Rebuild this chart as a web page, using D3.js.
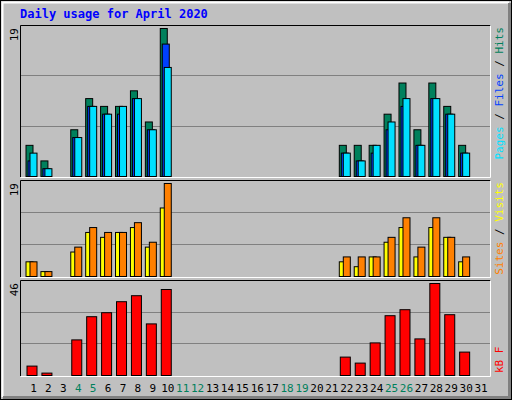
<!DOCTYPE html>
<html>
<head>
<meta charset="utf-8">
<script src="https://cdn.jsdelivr.net/npm/d3@7"></script>
<style>body{margin:0;background:#fff}</style>
</head>
<body>
<div class="chart"></div>
<script>
// Data.
const days = d3.range(1, 32);
const weekend = [4, 5, 11, 12, 18, 19, 25, 26];
const hits   = [4,2,0,6,10,9,9,11,7,19,0,0,0,0,0,0,0,0,0,0,0,4,4,4,8,12,6,12,9,4,0];
const files  = [2,1,0,5,9,8,8,10,6,17,0,0,0,0,0,0,0,0,0,0,0,3,2,3,6,9,4,10,8,3,0];
const pages  = [3,1,0,5,9,8,9,10,6,14,0,0,0,0,0,0,0,0,0,0,0,3,2,4,7,10,4,10,8,3,0];
const visits = [3,1,0,5,9,8,9,10,6,14,0,0,0,0,0,0,0,0,0,0,0,3,2,4,7,10,4,10,8,3,0];
const sites  = [3,1,0,6,10,9,9,11,7,19,0,0,0,0,0,0,0,0,0,0,0,4,4,4,8,12,6,12,8,4,0];
const kbytes = [4.7,1.2,0,17.8,29.4,31.4,36.9,39.9,25.8,43,0,0,0,0,0,0,0,0,0,0,0,9.2,6.2,16.3,29.9,32.9,18.3,46,30.4,11.7,0];

const W = 512, H = 400;
const font = 'DejaVu Sans Mono, monospace';

const svg = d3.select('.chart').append('svg').attr('width', W).attr('height', H);

// frame
svg.append('rect').attr('x', 0.5).attr('y', 0.5).attr('width', W - 1).attr('height', H - 1)
    .attr('fill', '#c0c0c0').attr('stroke', '#000');
svg.append('path').attr('d', `M2.5,${H - 3}V2.5H${W - 3}`).attr('fill', 'none').attr('stroke', '#fff').attr('stroke-width', 2);
svg.append('path').attr('d', `M3,${H - 2.5}H${W - 2.5}V3`).attr('fill', 'none').attr('stroke', '#808080').attr('stroke-width', 3);

svg.append('text').attr('x', 20).attr('y', 18).text('Daily usage for April 2020')
    .attr('font-family', font).attr('font-size', 12).attr('font-weight', 'bold').attr('fill', '#0000ff');

const x = d3.scaleBand().domain(days).range([25.5, 488]).paddingInner(0);

function panel(top, bottom, max, series, labels, anchorTop) {
    const y = d3.scaleLinear().domain([0, max]).range([bottom, top + 3]);
    const g = svg.append('g');
    // border
    g.append('path').attr('d', `M20.5,${bottom + 1}V${top + 0.5}H490.5`).attr('fill', 'none').attr('stroke', '#000');
    g.append('path').attr('d', `M20.5,${bottom + 1.5}H490.5V${top + 0.5}`).attr('fill', 'none').attr('stroke', '#fff');
    [1 / 3, 2 / 3].forEach(f => {
        const yy = Math.round(bottom - (bottom - top) * f) + 0.5;
        g.append('line').attr('x1', 21).attr('x2', 490).attr('y1', yy).attr('y2', yy).attr('stroke', '#808080');
    });
    g.append('text').attr('transform', `translate(18,${top + 3}) rotate(-90)`).attr('text-anchor', 'end')
        .text(max).attr('font-family', font).attr('font-size', 11);
    series.forEach(s => {
        g.selectAll(null).data(days.filter((d, i) => s.values[i] > 0)).enter().append('rect')
            .attr('x', d => x(d) + s.off + 0.5)
            .attr('y', d => y(s.values[d - 1]) + 0.5)
            .attr('width', s.w)
            .attr('height', d => bottom - y(s.values[d - 1]))
            .attr('fill', s.color).attr('stroke', '#000');
    });
    // right legend, reading bottom-to-top
    const t = g.append('text')
        .attr('transform', anchorTop ? `translate(503,${top + 2}) rotate(-90)` : `translate(503,${bottom - 2}) rotate(-90)`)
        .attr('text-anchor', anchorTop ? 'end' : 'start')
        .attr('font-family', font).attr('font-size', 11);
    labels.forEach((l, i) => {
        if (i) t.append('tspan').text(' / ').attr('fill', '#000');
        t.append('tspan').text(l.text).attr('fill', l.color);
    });
}

panel(25, 176, 19, [
    {values: hits, color: '#00805c', off: 0, w: 7},
    {values: files, color: '#0040ff', off: 2, w: 7},
    {values: pages, color: '#00e0ff', off: 4, w: 7}
], [{text: 'Pages', color: '#00e0ff'}, {text: 'Files', color: '#0040ff'}, {text: 'Hits', color: '#00805c'}], true);

panel(180, 276, 19, [
    {values: visits, color: '#ffff00', off: 0, w: 7},
    {values: sites, color: '#ff8000', off: 4, w: 7}
], [{text: 'Sites', color: '#ff8000'}, {text: 'Visits', color: '#ffff00'}], true);

panel(280, 375, 46, [
    {values: kbytes, color: '#ff0000', off: 1, w: 10}
], [{text: 'kB F', color: '#ff0000'}], false);

// day labels
svg.selectAll('.day').data(days).enter().append('text')
    .attr('x', d => x(d) + 8).attr('y', 392).attr('text-anchor', 'middle')
    .text(d => d).attr('font-family', font).attr('font-size', 11)
    .attr('fill', d => weekend.includes(d) ? '#00805c' : '#000');
</script>
</body>
</html>
